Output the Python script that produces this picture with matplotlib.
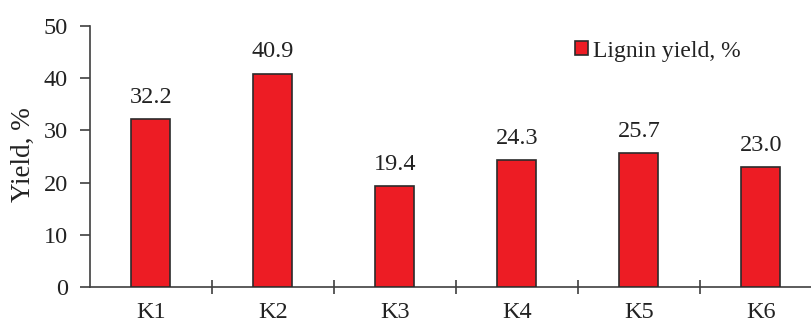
import matplotlib.pyplot as plt
import numpy as np

plt.rcParams["font.family"] = ["Liberation Serif", "DejaVu Serif"]

samples = ["K1", "K2", "K3", "K4", "K5", "K6"]
lignin_yield = [32.2, 40.9, 19.4, 24.3, 25.7, 23.0]

W, H = 812, 324
fig = plt.figure(figsize=(W / 100, H / 100), dpi=100)
ax = fig.add_axes([90 / W, 37 / H, (W - 90) / W, 261 / H])

x = np.arange(len(samples))
ax.bar(x, lignin_yield, width=0.32, color="#ED1C24", edgecolor="#2b2b2b",
       linewidth=1.2, label="Lignin yield, %", zorder=3)

# value labels sit a fixed gap above each bar
for xi, v in zip(x, lignin_yield):
    ax.text(xi, v + 3.1, f"{v:.1f}", ha="center", va="baseline", fontsize=17.5,
            color="#222222")

ax.set_xlim(-0.5, 5.42)
ax.set_ylim(0, 50)
ax.set_yticks(range(0, 51, 10))
ax.set_xticks(x)
ax.set_xticklabels(samples)
ax.set_xticks(np.arange(0.5, 5.0, 1.0), minor=True)
ax.tick_params(axis="x", which="major", length=0, pad=11, labelsize=17.5,
               colors="#222222")
ax.tick_params(axis="x", which="minor", direction="inout", length=10,
               width=1.2, color="#404040")
ax.tick_params(axis="y", direction="out", length=7, width=1.2,
               color="#404040", labelsize=17.5, labelcolor="#222222", pad=9)
fig.text(23 / W, 1 - 155 / H, "Yield, %", rotation=90, ha="center",
         va="center", fontsize=19.5, color="#222222")

for side in ("top", "right"):
    ax.spines[side].set_visible(False)
for side in ("left", "bottom"):
    ax.spines[side].set_color("#404040")
    ax.spines[side].set_linewidth(1.2)

ax.legend(loc="center left", bbox_to_anchor=(575 / W, 1 - 51 / H),
          bbox_transform=fig.transFigure, frameon=False, fontsize=17,
          borderpad=0, borderaxespad=0, handlelength=0.55, handleheight=0.55,
          handletextpad=0.22, labelcolor="#222222")

fig.savefig("out.png", dpi=100)
